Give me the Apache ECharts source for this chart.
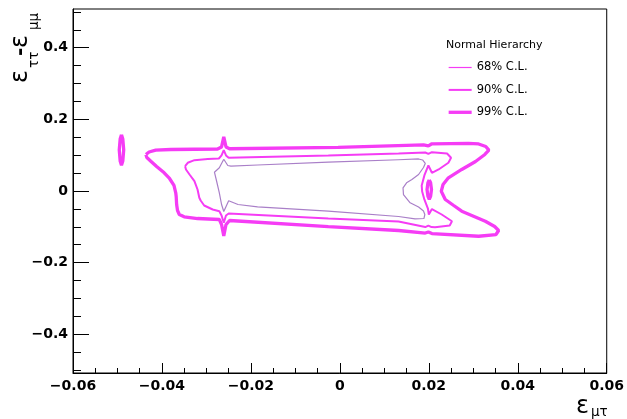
<!DOCTYPE html>
<html><head><meta charset="utf-8">
<script src="https://cdn.jsdelivr.net/npm/echarts@6/dist/echarts.min.js"></script>
<style>html,body{margin:0;padding:0;background:#fff}#c{width:627px;height:419px}</style>
</head><body><div id="c"></div>
<script>
// ---- data (epsilon_mu_tau, epsilon_tautau - epsilon_mumu) ----
const c68 = [
  [-0.0261,0.0885],[-0.0252,0.0712],[-0.0245,0.0693],[-0.0185,0.0726],[-0.0026,0.0804],
  [0.0132,0.0872],[0.0177,0.0894],[0.0186,0.0866],[0.0192,0.0768],[0.0188,0.0656],
  [0.0177,0.0461],[0.0162,0.0321],[0.0150,0.0229],[0.0142,0.0089],[0.0143,-0.0098],
  [0.0158,-0.0330],[0.0177,-0.0447],[0.0188,-0.0559],[0.0191,-0.0656],[0.0189,-0.0768],
  [0.0169,-0.0777],[0.0132,-0.0712],[-0.0026,-0.0564],[-0.0185,-0.0441],[-0.0229,-0.0377],
  [-0.0250,-0.0271],[-0.0261,-0.0573],[-0.0266,-0.0377],[-0.0271,-0.0050],[-0.0278,0.0321],
  [-0.0282,0.0525],[-0.0271,0.0647],[-0.0261,0.0885]
];
const c90 = [
  [-0.0348,0.0693],[-0.0342,0.0788],[-0.0327,0.0860],[-0.0297,0.0894],[-0.0272,0.0908],
  [-0.0266,0.0992],[-0.0261,0.1140],[-0.0256,0.0992],[-0.0250,0.0927],[-0.0026,0.0992],
  [0.0132,0.1047],[0.0192,0.1075],[0.0199,0.1034],[0.0207,0.1084],[0.0241,0.1047],
  [0.0250,0.0927],[0.0244,0.0788],[0.0222,0.0601],[0.0207,0.0508],[0.0199,0.0712],
  [0.0190,0.0433],[0.0184,0.0154],[0.0185,-0.0014],[0.0190,-0.0237],[0.0198,-0.0489],
  [0.0200,-0.0656],[0.0207,-0.0503],[0.0229,-0.0656],[0.0252,-0.0844],[0.0247,-0.0964],
  [0.0214,-0.1011],[0.0206,-0.1006],[0.0199,-0.0964],[0.0192,-0.1006],[0.0132,-0.0852],
  [-0.0026,-0.0768],[-0.0250,-0.0628],[-0.0256,-0.0684],[-0.0261,-0.0888],[-0.0266,-0.0684],
  [-0.0271,-0.0564],[-0.0286,-0.0517],[-0.0305,-0.0405],[-0.0313,-0.0265],[-0.0316,-0.0190],
  [-0.0320,0.0042],[-0.0327,0.0274],[-0.0338,0.0461],[-0.0346,0.0601],[-0.0348,0.0693]
];
const c99 = [
  [-0.0436,0.1020],[-0.0429,0.1089],[-0.0414,0.1140],[-0.0380,0.1159],[-0.0275,0.1173],
  [-0.0266,0.1229],[-0.0261,0.1508],[-0.0256,0.1229],[-0.0248,0.1179],[-0.0004,0.1215],
  [0.0188,0.1290],[0.0199,0.1257],[0.0207,0.1318],[0.0289,0.1327],[0.0312,0.1313],
  [0.0328,0.1243],[0.0335,0.1140],[0.0326,0.1020],[0.0305,0.0824],[0.0274,0.0601],
  [0.0244,0.0369],[0.0232,0.0182],[0.0228,-0.0006],[0.0237,-0.0237],[0.0256,-0.0405],
  [0.0274,-0.0564],[0.0327,-0.0844],[0.0348,-0.0992],[0.0357,-0.1103],[0.0351,-0.1215],
  [0.0312,-0.1263],[0.0207,-0.1187],[0.0199,-0.1145],[0.0192,-0.1173],[0.0132,-0.1103],
  [-0.0026,-0.0992],[-0.0248,-0.0824],[-0.0256,-0.0936],[-0.0261,-0.1257],[-0.0266,-0.0936],
  [-0.0271,-0.0796],[-0.0320,-0.0768],[-0.0350,-0.0721],[-0.0361,-0.0656],[-0.0365,-0.0545],
  [-0.0367,-0.0377],[-0.0368,-0.0154],[-0.0369,-0.0050],[-0.0373,0.0154],[-0.0383,0.0349],
  [-0.0395,0.0508],[-0.0412,0.0684],[-0.0425,0.0832],[-0.0434,0.0936],[-0.0436,0.1020]
];
const island99Left = [
  [-0.0491,0.157],[-0.0488,0.145],[-0.0486,0.1145],[-0.0488,0.084],[-0.0491,0.072],
  [-0.0494,0.084],[-0.0496,0.1145],[-0.0494,0.145],[-0.0491,0.157]
];
const island99Right = [
  [0.0201,0.031],[0.0204,0.023],[0.0206,0.004],[0.0204,-0.015],[0.0201,-0.023],
  [0.0198,-0.015],[0.0196,0.004],[0.0198,0.023],[0.0201,0.031]
];
const yLabelValues = [-0.4, -0.2, 0, 0.2, 0.4];
const yMinorValues = [-0.5,-0.45,-0.4,-0.35,-0.3,-0.25,-0.2,-0.15,-0.1,-0.05,0,0.05,0.1,0.15,0.2,0.25,0.3,0.35,0.4,0.45,0.5];
const seriesNames = ['68% C.L.', '90% C.L.', '99% C.L.'];
const legendTitle = 'Normal Hierarchy';

// ---- chart ----
const MAG = '#f53cf5';
const PURP = '#a97fc8';
const W = [1.2, 2, 3.3];
const lbl = {color:'#000', fontFamily:'DejaVu Sans', fontWeight:'bold', fontSize:14};
function fmt(v, d){ if (Math.abs(v) < 1e-9) return '0'; return (v<0?'\u2212':'') + Math.abs(v).toFixed(d); }
function line(name, data, color, width){
  return {type:'line', name, data, symbol:'none', showSymbol:false, smooth:false, silent:true,
    lineStyle:{color, width}, itemStyle:{color}, animation:false, z:3};
}
const hide = {color:'rgba(0,0,0,0)', opacity:0, borderWidth:0, borderColor:'rgba(0,0,0,0)'};
const chart = echarts.init(document.getElementById('c'), null, {renderer:'canvas'});
chart.setOption({
  animation:false,
  grid:{left:73, right:18, top:9, bottom:46, show:true, borderColor:'#000', borderWidth:1, backgroundColor:'transparent'},
  xAxis:{type:'value', min:-0.06, max:0.06, interval:0.02,
    axisLine:{show:true, onZero:false, lineStyle:{color:'#000', width:1}},
    axisTick:{show:true, inside:true, length:10, lineStyle:{color:'#000'}},
    minorTick:{show:true, splitNumber:4, length:5, lineStyle:{color:'#000'}},
    splitLine:{show:false}, minorSplitLine:{show:false},
    axisLabel:Object.assign({margin:6, formatter:v=>fmt(v,2)}, lbl)},
  yAxis:[
    {type:'value', min:-0.508, max:0.508,
      axisLine:{show:true, onZero:false, lineStyle:{color:'#000', width:1}},
      axisTick:{show:true, inside:true, length:16, customValues:yLabelValues, lineStyle:{color:'#000'}},
      splitLine:{show:false},
      axisLabel:Object.assign({margin:5, customValues:yLabelValues, formatter:v=>fmt(v,1)}, lbl)},
    {type:'value', min:-0.508, max:0.508, position:'left',
      axisLine:{show:false, onZero:false},
      axisTick:{show:true, inside:true, length:8, customValues:yMinorValues, lineStyle:{color:'#000'}},
      splitLine:{show:false}, axisLabel:{show:false}}
  ],
  legend:{orient:'vertical', left:447, top:61.5, padding:0, itemWidth:23, itemHeight:14, itemGap:10.4,
    textStyle:{color:'#000', fontFamily:'DejaVu Sans', fontSize:11.5},
    itemStyle:hide,
    data:seriesNames.map((n,i)=>({name:n, itemStyle:hide, lineStyle:{color:MAG, width:W[i]}}))},
  series:[
    line(seriesNames[2], c99, MAG, W[2]),
    line(seriesNames[2], island99Left, MAG, W[2]),
    line(seriesNames[2], island99Right, MAG, W[2]),
    line(seriesNames[1], c90, MAG, W[1]),
    line('68% contour', c68, PURP, W[0]),
    line(seriesNames[0], [], MAG, W[0])
  ],
  graphic:[
    {type:'text', x:446, y:45, style:{text:legendTitle, fill:'#000', font:'11px "DejaVu Sans"', verticalAlign:'middle', align:'left'}},
    {type:'text', x:576, y:406.7, style:{text:'\u03b5', fill:'#000', font:'24px "DejaVu Sans"', verticalAlign:'middle', align:'left'}},
    {type:'text', x:591, y:412.5, style:{text:'\u03bc\u03c4', fill:'#000', font:'13.5px "DejaVu Sans"', verticalAlign:'middle', align:'left'}},
    {type:'text', x:21, y:83, rotation:Math.PI/2, style:{text:'\u03b5', fill:'#000', font:'24px "DejaVu Sans"', verticalAlign:'middle', align:'left'}},
    {type:'text', x:34, y:68, rotation:Math.PI/2, style:{text:'\u03c4\u03c4', fill:'#000', font:'13.5px "DejaVu Sans"', verticalAlign:'middle', align:'left'}},
    {type:'text', x:21, y:56, rotation:Math.PI/2, style:{text:'-', fill:'#000', font:'bold 20px "DejaVu Sans"', verticalAlign:'middle', align:'left'}},
    {type:'text', x:21, y:48, rotation:Math.PI/2, style:{text:'\u03b5', fill:'#000', font:'24px "DejaVu Sans"', verticalAlign:'middle', align:'left'}},
    {type:'text', x:34, y:30, rotation:Math.PI/2, style:{text:'\u03bc\u03bc', fill:'#000', font:'13.5px "DejaVu Sans"', verticalAlign:'middle', align:'left'}}
  ]
});
</script></body></html>
